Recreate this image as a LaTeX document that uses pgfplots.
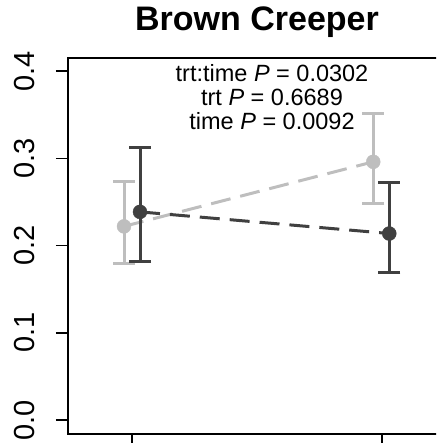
\documentclass[border=0pt]{standalone}
\usepackage{fontspec}
\setmainfont{Liberation Sans}
\usepackage{pgfplots}
\pgfplotsset{compat=1.18}
\definecolor{ctrlgray}{RGB}{190,190,190}
\definecolor{trtgray}{RGB}{64,64,64}
\begin{document}
\begin{tikzpicture}[x=1pt,y=1pt]
\useasboundingbox (0,0) rectangle (436,443);
\clip (0,0) rectangle (436,443);
\begin{axis}[
  at={(68pt,9pt)}, anchor=south west,
  scale only axis, width=378pt, height=376pt,
  xmin=0.744, xmax=2.256, ymin=-0.016, ymax=0.415,
  xtick={1,2}, xticklabels={},
  ytick={0,0.1,0.2,0.3,0.4},
  yticklabels={0.0,0.1,0.2,0.3,0.4},
  xtick pos=bottom, ytick pos=left,
  tick align=outside, major tick length=12pt,
  tick style={line width=1.6pt, black},
  axis line style={line width=1.6pt},
  yticklabel style={rotate=90, anchor=base, inner sep=0pt, yshift=21pt,
    font=\fontsize{29}{34}\selectfont},
  clip=false,
]
% control group
\addplot[ctrlgray, line width=3pt, dash pattern=on 20pt off 10pt]
  coordinates {(0.968,0.222) (1.965,0.296)};
\addplot[ctrlgray, only marks, mark=*, mark size=7pt,
  error bars/.cd, y dir=both, y explicit,
  error bar style={line width=3pt, solid},
  error mark options={rotate=90, mark size=11pt, line width=3pt}]
  coordinates {
    (0.968,0.222) += (0,0.052) -= (0,0.042)
    (1.965,0.296) += (0,0.055) -= (0,0.048)
  };
% treatment group
\addplot[trtgray, line width=3pt, dash pattern=on 20pt off 10pt]
  coordinates {(1.032,0.2386) (2.029,0.2138)};
\addplot[trtgray, only marks, mark=*, mark size=7pt,
  error bars/.cd, y dir=both, y explicit,
  error bar style={line width=3pt, solid},
  error mark options={rotate=90, mark size=11pt, line width=3pt}]
  coordinates {
    (1.032,0.2386) += (0,0.0734) -= (0,0.0566)
    (2.029,0.2138) += (0,0.0582) -= (0,0.0448)
  };
\end{axis}
\node[anchor=base, font=\fontsize{34}{40}\selectfont\bfseries] at (257,412) {Brown Creeper};
\begin{scope}[every node/.style={anchor=base, font=\fontsize{23.5}{26}\selectfont}]
\node at (272,361) {trt:time \textit{P} = 0.0302};
\node at (272,337) {trt \textit{P} = 0.6689};
\node at (272,313) {time \textit{P} = 0.0092};
\end{scope}
\end{tikzpicture}
\end{document}
